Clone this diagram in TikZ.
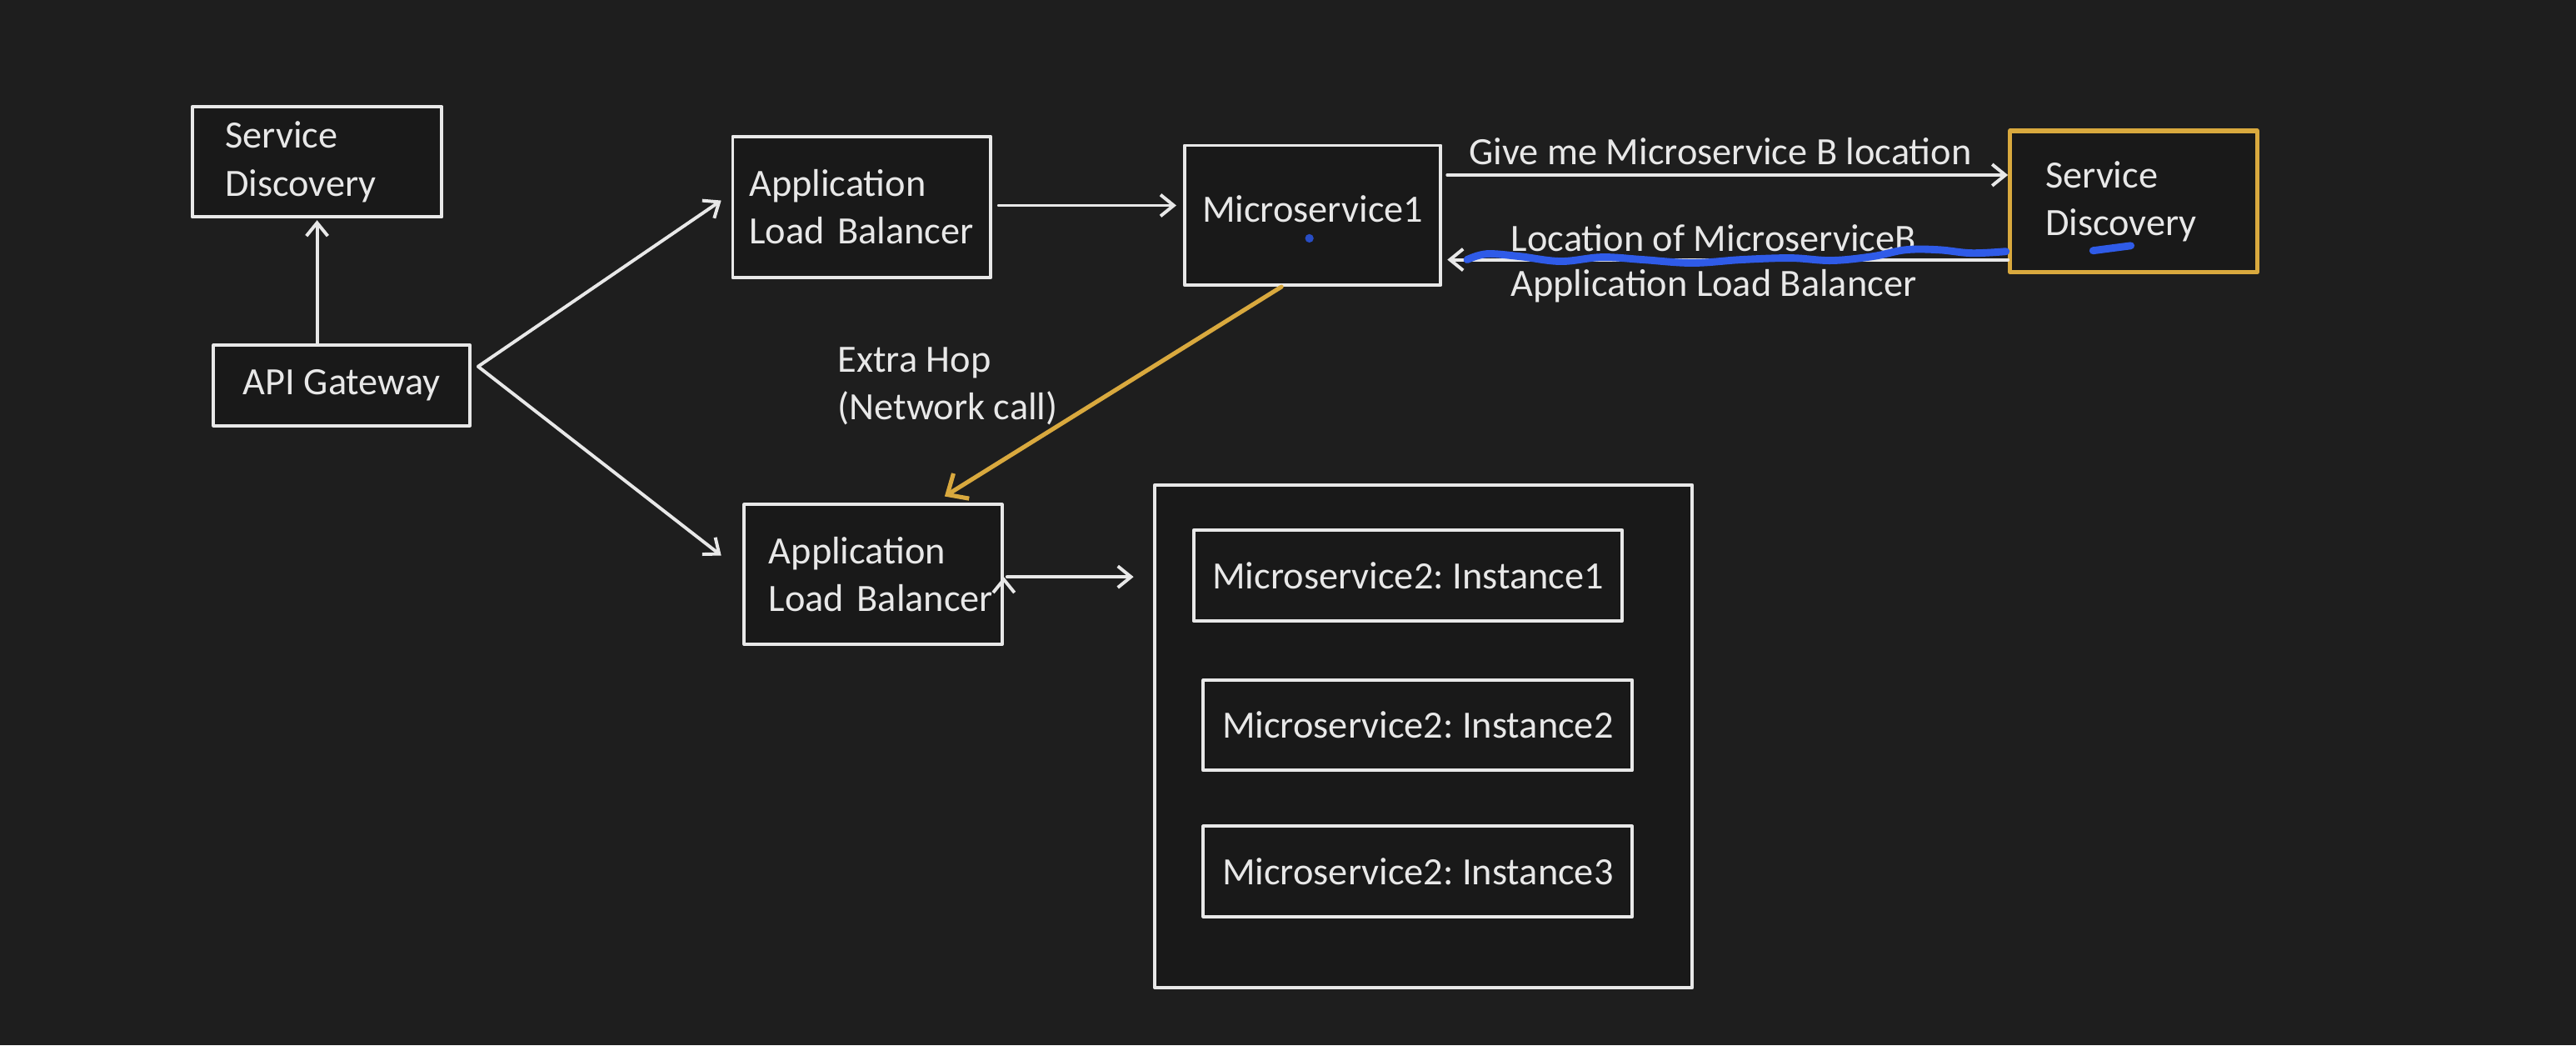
\documentclass[tikz,border=0pt]{standalone}
\usepackage{fontspec}
\setmainfont{Carlito}
\usetikzlibrary{arrows.meta}
\definecolor{bg}{HTML}{1E1E1E}
\definecolor{boxbg}{HTML}{191919}
\definecolor{fg}{HTML}{E8E8E8}
\definecolor{gold}{HTML}{D9A93E}
\definecolor{pen}{HTML}{2F5BE8}
\frenchspacing

\begin{document}
\begin{tikzpicture}[x=1pt,y=1pt,>={Straight Barb[length=8pt,width=13pt]},
                    line width=2pt,line cap=round,line join=round,
                    node distance=91pt]
  \tikzstyle{box}=[draw=fg,fill=boxbg,text=fg,line width=2pt,inner sep=0pt,
                   font=\fontsize{23.5}{29}\selectfont,align=left]
  \tikzstyle{lbl}=[text=fg,inner sep=0pt,font=\fontsize{23.5}{29}\selectfont,align=left]

  \fill[bg] (0,0) rectangle (1568,-636);
  \useasboundingbox (0,0) rectangle (1568,-636);

  \node[box,minimum width=152pt,minimum height=67pt,text width=112pt] (sd) at (193,-98.5) {Service\\Discovery};
  \node[box,minimum width=156pt,minimum height=49pt,align=center] (gw) at (208,-234.5) {API Gateway};
  \node[box,minimum width=157pt,minimum height=86pt,text width=137pt] (alb1) at (524.5,-126) {Application\\\mbox{Load Balancer}};
  \node[box,minimum width=157pt,minimum height=85pt,text width=127pt] (alb2) at (531.5,-349.5) {Application\\\mbox{Load Balancer}};
  \node[box,minimum width=156pt,minimum height=85pt,align=center,text depth=8pt] (ms1) at (799,-131) {Microservice1};
  \node[box,draw=gold,line width=2.6pt,minimum width=150.5pt,minimum height=86pt,text width=107.5pt] (sd2) at (1298.75,-122.6) {Service\\Discovery};

  % instances of microservice 2
  \node[box,minimum width=327pt,minimum height=306pt] (pool) at (866.5,-448) {};
  \node[box,minimum width=261pt,minimum height=55pt,align=center] (i1) at (857,-350.25) {Microservice2: Instance1};
  \node[box,minimum width=261pt,minimum height=55pt,align=center] (i2) [below of=i1,xshift=6pt] {Microservice2: Instance2};
  \node[box,minimum width=261pt,minimum height=55pt,align=center] (i3) [below of=i2,node distance=89pt] {Microservice2: Instance3};

  \node[lbl,anchor=west] (hop) at (509,-235) {Extra Hop\\(Network call)};

  \coordinate (fork) at ([shift={(4pt,11.5pt)}]gw.east);
  \draw[fg,->]
        ([xshift=-15pt]gw.north) edge [shorten >=1pt] (sd.south)
        (fork) edge ([shift={(-6pt,4pt)}]alb1.west)
        (fork) edge ([shift={(-13pt,11.5pt)}]alb2.west)
        ([yshift=1pt]alb1.east) edge [shorten <=4pt,shorten >=4pt] ([yshift=1pt]alb1.east -| ms1.west)
        ([yshift=-1.5pt]alb2.east) edge [shorten <=2pt,shorten >=12pt] ([yshift=-1.5pt]alb2.east -| pool.west);

  \draw[fg,->,shorten <=3pt] ([yshift=24.5pt]ms1.east) -- ([yshift=24.5pt]ms1.east -| sd2.west)
        node[lbl,midway,yshift=14.5pt,xshift=-3pt] (ask) {Give me Microservice B location};
  \draw[fg,->,shorten >=3pt] ([yshift=-35.4pt]sd2.west) -- ([yshift=-35.4pt]sd2.west -| ms1.east)
        node[lbl,midway,yshift=13pt,xshift=-7pt] (loc) {Location of MicroserviceB}
        node[lbl,midway,yshift=-16pt,xshift=-7pt] (ans) {Application Load Balancer};

  \draw[gold,->,line width=2.6pt,>={Straight Barb[length=10pt,width=18pt]}]
        ([xshift=-19pt]ms1.south) -- ([xshift=43.5pt,yshift=4pt]alb2.north);

  % pen marks
  \draw[pen,line width=4.5pt] plot[smooth,tension=0.6] coordinates {(893,-158) (905,-154.5) (925,-156) (950,-159)
        (975,-156.5) (1000,-158) (1030,-160) (1060,-158) (1090,-157) (1115,-158.5) (1140,-156)
        (1160,-152) (1180,-152) (1200,-154) (1221,-153)};
  \fill[pen!85!black] ([shift={(-2pt,-14pt)}]ms1.center) circle (2.6pt);
  \draw[pen,line width=4.5pt] (1274,-152.5) -- (1297,-149.5);
\end{tikzpicture}
\end{document}
